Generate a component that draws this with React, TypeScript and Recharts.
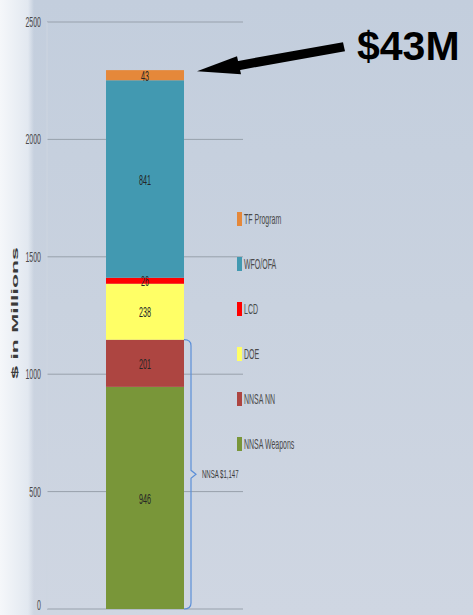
import React from 'react';
import { BarChart, Bar, XAxis, YAxis, CartesianGrid } from 'recharts';

const categories = ['FY'];
const seriesNames = ['NNSA Weapons', 'NNSA NN', 'DOE', 'LCD', 'WFO/OFA', 'TF Program'];
const seriesValues = [946, 201, 238, 26, 841, 43];
const seriesColors = ['#799639', '#ad4541', '#ffff66', '#ff0000', '#4299b1', '#e5883a'];
const yTicks = [0, 500, 1000, 1500, 2000, 2500];

const data = categories.map((c) => {
  const row: Record<string, number | string> = { name: c };
  seriesNames.forEach((s, i) => {
    row[s] = seriesValues[i];
  });
  return row;
});

const nnsaTotal = seriesValues[0] + seriesValues[1];
const tfValue = seriesValues[5];

// squeezed text, the source picture is stretched vertically
function Squeezed({ x, y, size, sx = 0.58, anchor = 'middle', fill = '#333', children }: any) {
  return (
    <text
      transform={`translate(${x},${y}) scale(${sx},1)`}
      fontSize={size}
      textAnchor={anchor}
      dominantBaseline="central"
      fill={fill}
      fontFamily="Liberation Sans, Arial, sans-serif"
    >
      {children}
    </text>
  );
}

const renderTick = (props: any) => {
  const { x, y, payload } = props;
  // keep the "0" inside the page
  return (
    <Squeezed x={x} y={Math.min(y, 605)} size={14} sx={0.5} anchor="end" fill="#4a4a4a">
      {payload.value}
    </Squeezed>
  );
};

const segLabel = (i: number) => (props: any) => {
  const { x, y, width, height } = props;
  return (
    <Squeezed x={x + width / 2} y={y + height / 2} size={15} sx={0.48} fill="#262626">
      {seriesValues[i]}
    </Squeezed>
  );
};

// bracket around the NNSA part of the stack
const nnShape = (props: any) => {
  const { x, y, width, height, fill, background } = props;
  const bottom = background.y + background.height;
  const bx = x + width + 7;
  const mid = (y + bottom) / 2;
  return (
    <g>
      <rect x={x} y={y} width={width} height={height} fill={fill} />
      <path
        d={`M${x + width},${y} Q${bx},${y} ${bx},${y + 6} L${bx},${mid - 4} L${bx + 5},${mid} L${bx},${mid + 4} L${bx},${bottom - 6} Q${bx},${bottom} ${x + width},${bottom}`}
        fill="none"
        stroke="#5b8fd8"
        strokeWidth={1.2}
      />
      <Squeezed x={bx + 11} y={mid} size={11} sx={0.55} anchor="start" fill="#3a3a3a">
        {`NNSA $${nnsaTotal.toLocaleString('en-US')}`}
      </Squeezed>
    </g>
  );
};

// arrow and callout at the top segment
const tfShape = (props: any) => {
  const { x, y, width, height, fill } = props;
  const tx = x + width + 13;
  const ty = y + 1;
  return (
    <g>
      <rect x={x} y={y} width={width} height={height} fill={fill} />
      <polygon points={`${tx},${ty} ${tx + 40},${ty - 15} ${tx + 44},${ty + 3}`} fill="#000" />
      <polygon
        points={`${tx + 40},${ty - 10} ${tx + 146},${ty - 29} ${tx + 148},${ty - 20} ${tx + 42},${ty - 1}`}
        fill="#000"
      />
      <text x={tx + 160} y={ty - 11} fontSize={41} fontWeight="bold" fontFamily="Liberation Sans, Arial, sans-serif" fill="#000">
        {`$${tfValue}M`}
      </text>
    </g>
  );
};

function ChartLegend() {
  const items = seriesNames.map((n, i) => ({ n, c: seriesColors[i] })).reverse();
  return (
    <svg width={120} height={270} style={{ position: 'absolute', left: 236, top: 205 }}>
      {items.map((it, i) => (
        <g key={it.n}>
          <rect x={1} y={7 + 45 * i} width={5} height={14} fill={it.c} />
          <Squeezed x={8} y={14 + 45 * i} size={14} sx={0.5} anchor="start" fill="#4a4a4a">
            {it.n}
          </Squeezed>
        </g>
      ))}
    </svg>
  );
}

const renderYLabel = (props: any) => {
  const vb = props.viewBox || { x: 0 };
  const cx = vb.x + 15;
  const cy = 313;
  return (
    <text
      transform={`translate(${cx},${cy}) rotate(-90) scale(1,0.4)`}
      fontSize={23}
      fontWeight="bold"
      textAnchor="middle"
      dominantBaseline="central"
      fill="#3a3a3a"
      fontFamily="Liberation Sans, Arial, sans-serif"
    >
      $ in Millions
    </text>
  );
};

export default function App() {
  return (
    <div
      style={{
        position: 'absolute',
        left: 0,
        top: 0,
        width: 473,
        height: 615,
        background:
          'linear-gradient(to right, rgba(245,247,250,1) 0px, rgba(226,232,240,1) 28px, rgba(226,232,240,0) 34px), linear-gradient(to bottom, #c3cedd 0%, #c9d2df 50%, #cfd6e2 100%)',
      }}
    >
      <BarChart
        width={473}
        height={615}
        data={data}
        margin={{ top: 22, right: 230, bottom: 6, left: 0 }}
        barSize={78}
      >
        <CartesianGrid vertical={false} stroke="#98a1ac" strokeWidth={1} />
        <XAxis dataKey="name" hide />
        <YAxis
          width={47}
          domain={[0, 2500]}
          ticks={yTicks}
          interval={0}
          tick={renderTick}
          tickSize={0}
          tickMargin={6}
          tickLine={false}
          axisLine={{ stroke: '#cdd5e0' }}
          label={{ content: renderYLabel }}
        />
        {seriesNames.map((s, i) => (
          <Bar
            key={s}
            dataKey={s}
            stackId="a"
            fill={seriesColors[i]}
            isAnimationActive={false}
            label={segLabel(i)}
            shape={i === 1 ? nnShape : i === 5 ? tfShape : undefined}
          />
        ))}
      </BarChart>
      <ChartLegend />
    </div>
  );
}
